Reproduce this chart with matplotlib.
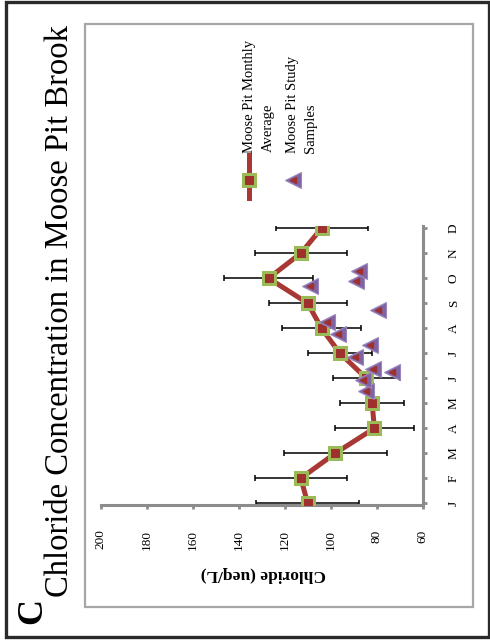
import matplotlib
matplotlib.use('Agg')
import matplotlib.pyplot as plt
from matplotlib.lines import Line2D
from matplotlib.patches import Rectangle

plt.rcParams['font.family'] = ['Liberation Serif', 'DejaVu Serif']

# ── data ──────────────────────────────────────────────────────────────────
months = ['J', 'F', 'M', 'A', 'M', 'J', 'J', 'A', 'S', 'O', 'N', 'D']
monthly_avg = [110, 113, 98, 81, 82, 84.5, 96, 104, 110, 127, 113, 104]
monthly_err = [22.5, 20, 22.5, 17, 14, 14.5, 14, 17, 17, 19.5, 20, 20]

# study samples: position along the month axis (0 = Jan) and chloride value
sample_pos = [4.49, 4.95, 5.25, 5.39, 5.86, 6.35, 6.76, 7.26, 7.73, 8.69, 8.89, 9.30]
sample_val = [84.6, 86.1, 73.5, 81.4, 89.4, 82.9, 96.7, 101.4, 79.3, 109, 89, 87.5]

value_ticks = [200, 180, 160, 140, 120, 100, 80, 60]

LINE_RED = '#A93835'
INNER_RED = '#A0302D'
GREEN = '#9BBB59'
PURPLE = '#8064A2'
AXIS_GREY = '#8C8C8C'

W, H = 490, 640
fig = plt.figure(figsize=(W / 100, H / 100), dpi=100)


def px(x, y):
    """pixel position (from top-left) -> figure fraction"""
    return x / W, 1 - y / H


# the whole chart is turned 90 degrees: value axis runs horizontally
left, top = 100.7, 226
right, bottom = 422.7, 504.5
ax = fig.add_axes([left / W, 1 - bottom / H, (right - left) / W, (bottom - top) / H])
ax.set_xlim(200, 60)
ax.set_ylim(-0.05, 11.09)

idx = list(range(len(months)))
ax.errorbar(monthly_avg, idx, xerr=monthly_err, fmt='none', ecolor='black',
            elinewidth=1.1, capsize=2.5, capthick=1.1, zorder=2)
ax.plot(monthly_avg, idx, color=LINE_RED, linewidth=3.6, zorder=3,
        solid_capstyle='round', solid_joinstyle='round')
ax.plot(monthly_avg, idx, linestyle='none', marker='s', markersize=8,
        markerfacecolor=INNER_RED, markeredgecolor=GREEN, markeredgewidth=2.2, zorder=4)
ax.plot(sample_val, sample_pos, linestyle='none', marker='<', markersize=11,
        markerfacecolor=PURPLE, markeredgecolor='#9C86C0', markeredgewidth=0.8, zorder=5)
ax.plot(sample_val, sample_pos, linestyle='none', marker='<', markersize=4,
        markerfacecolor=INNER_RED, markeredgecolor=INNER_RED, zorder=6)

for s in ['top', 'left']:
    ax.spines[s].set_visible(False)
for s in ['bottom', 'right']:
    ax.spines[s].set_color(AXIS_GREY)
    ax.spines[s].set_linewidth(2.2)

ax.set_xticks(value_ticks)
ax.set_xticklabels([str(v) for v in value_ticks], rotation=90, fontsize=9.5)
ax.tick_params(axis='x', direction='out', length=3, width=2, color=AXIS_GREY, pad=15)

ax.yaxis.tick_right()
ax.set_yticks(idx)
ax.set_yticklabels(months, rotation=90, fontsize=9.5, va='center')
ax.tick_params(axis='y', direction='out', length=3, width=2, color=AXIS_GREY, pad=15)
ax.set_facecolor('none')

# axis title (upside down, as in the source)
fig.text(*px(263, 574), 'Chloride (ueq/L)', rotation=180, ha='center', va='center',
         fontsize=12.5, fontweight='bold')

# chart title and panel letter
fig.text(*px(60, 311), 'Chloride Concentration in Moose Pit Brook', rotation=90,
         ha='center', va='center', fontsize=23.5)
fig.text(*px(33, 611), 'C', rotation=90, ha='center', va='center',
         fontsize=26, fontweight='bold')

# legend, drawn by hand because it is rotated
fig.add_artist(Line2D([px(249, 0)[0]] * 2, [px(0, 155)[1], px(0, 198)[1]],
                      transform=fig.transFigure, color=LINE_RED, linewidth=3.6))
fig.add_artist(Line2D([px(249, 0)[0]], [px(0, 180)[1]], transform=fig.transFigure,
                      marker='s', markersize=8, markerfacecolor=INNER_RED,
                      markeredgecolor=GREEN, markeredgewidth=2.2))
fig.add_artist(Line2D([px(293, 0)[0]], [px(0, 180)[1]], transform=fig.transFigure,
                      marker='<', markersize=11, markerfacecolor=PURPLE,
                      markeredgecolor='#9C86C0', markeredgewidth=0.8))
fig.add_artist(Line2D([px(293, 0)[0]], [px(0, 180)[1]], transform=fig.transFigure,
                      marker='<', markersize=4, markerfacecolor=INNER_RED,
                      markeredgecolor=INNER_RED))
for x, y, t in [(250, 153, 'Moose Pit Monthly'), (268, 152, 'Average'),
                (292, 153, 'Moose Pit Study'), (310, 153, 'Samples')]:
    fig.text(*px(x, y), t, rotation=90, ha='center', va='bottom', fontsize=10.5)

# frames
gx0, gy0 = px(84.5, 607)
gx1, gy1 = px(472.5, 24)
fig.add_artist(Rectangle((gx0, gy0), gx1 - gx0, gy1 - gy0, transform=fig.transFigure,
                         fill=False, edgecolor='#A6A6A6', linewidth=1.6))
bx0, by0 = px(6, 637)
bx1, by1 = px(489, 2)
fig.add_artist(Rectangle((bx0, by0), bx1 - bx0, by1 - by0, transform=fig.transFigure,
                         fill=False, edgecolor='#2A2A2A', linewidth=2.4))

fig.savefig('out.png', dpi=100)
